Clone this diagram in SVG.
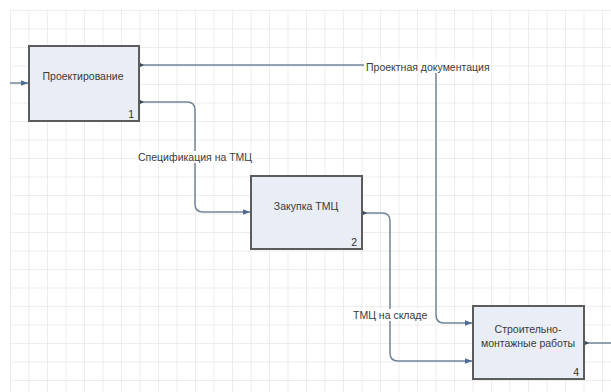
<svg xmlns="http://www.w3.org/2000/svg" width="611" height="392" viewBox="0 0 611 392">
<defs>
<pattern id="grid" x="10" y="10" width="18.5" height="18.5" patternUnits="userSpaceOnUse">
<path d="M0 0H18.5M0 0V18.5" fill="none" stroke="#dcdcdc" stroke-width="1"/>
</pattern>
<marker id="arr" viewBox="0 0 10 10" refX="10" refY="5" markerWidth="7" markerHeight="7" orient="auto" markerUnits="userSpaceOnUse">
<path d="M0 1L10 5L0 9Z" fill="#4f6a94"/>
</marker>
<marker id="dot" viewBox="0 0 6 6" refX="1" refY="3" markerWidth="5" markerHeight="5" orient="auto" markerUnits="userSpaceOnUse">
<path d="M0 0L6 3L0 6Z" fill="#3d4a5c"/>
</marker>
</defs>
<style>
.box{fill:#e9edf6;stroke:#5c5c5c;stroke-width:2}
.lbl{font-family:"Liberation Sans",Arial,sans-serif;font-size:10.5px;fill:#3a3a3a}
.num{font-family:"Liberation Sans",Arial,sans-serif;font-size:10.5px;fill:#333}
.con{fill:none;stroke:#73849a;stroke-width:1.5}
.bg{fill:#ffffff}
</style>
<rect width="611" height="392" fill="#fff"/>
<rect x="10" y="10" width="601" height="382" fill="url(#grid)"/>
<g id="connectors">
<path class="con" d="M10 83H28" marker-end="url(#arr)"/>
<path class="con" d="M140 65H428Q436 65 436 73V315Q436 323 444 323H472" marker-start="url(#dot)" marker-end="url(#arr)"/>
<path class="con" d="M140 102H187Q195 102 195 110V204Q195 212 203 212H250" marker-start="url(#dot)" marker-end="url(#arr)"/>
<path class="con" d="M363 213H382Q390 213 390 221V353Q390 361 398 361H472" marker-start="url(#dot)" marker-end="url(#arr)"/>
<path class="con" d="M585 343H611" marker-start="url(#dot)"/>
<rect class="bg" x="364" y="61" width="126" height="12"/>
<text class="lbl" x="366" y="71">Проектная документация</text>
<rect class="bg" x="136" y="151" width="118" height="12"/>
<text class="lbl" x="138" y="161">Спецификация на ТМЦ</text>
<rect class="bg" x="351" y="309" width="78" height="12"/>
<text class="lbl" x="353" y="319">ТМЦ на складе</text>
</g>
<g id="node1">
<rect class="box" x="29" y="46" width="110" height="75"/>
<text class="lbl" x="83" y="80" text-anchor="middle">Проектирование</text>
<text class="num" x="134" y="118" text-anchor="end">1</text>
</g>
<g id="node2">
<rect class="box" x="251" y="176" width="111" height="73"/>
<text class="lbl" x="306" y="210" text-anchor="middle">Закупка ТМЦ</text>
<text class="num" x="357" y="246" text-anchor="end">2</text>
</g>
<g id="node4">
<rect class="box" x="473" y="306" width="111" height="73"/>
<text class="lbl" x="528" y="333" text-anchor="middle">Строительно-</text>
<text class="lbl" x="528" y="347" text-anchor="middle">монтажные работы</text>
<text class="num" x="579" y="376" text-anchor="end">4</text>
</g>
</svg>
